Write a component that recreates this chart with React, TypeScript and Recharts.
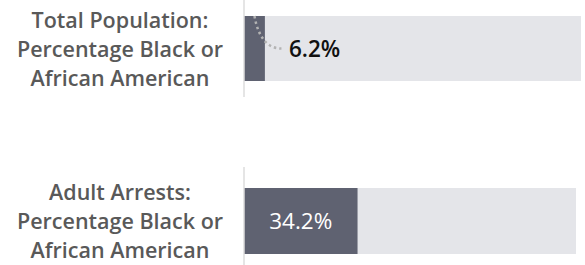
import React from 'react';
import { BarChart, Bar, XAxis, YAxis, LabelList } from 'recharts';

const categories = ['Total Population', 'Adult Arrests'];
const values = [6.2, 34.2];
const labelLines = [
  ['Total Population:', 'Percentage Black or', 'African American'],
  ['Adult Arrests:', 'Percentage Black or', 'African American'],
];
const domainMax = 100;

const FONT = '"Open Sans", "Noto Sans", sans-serif';
const DARK = '#5f6271';
const LIGHT = '#e4e5e9';

const makeTick = (lines: string[]) => (props: any) => {
  const { y } = props;
  return (
    <text textAnchor="middle" fill="#595959" fontFamily={FONT} fontSize={21.5} fontWeight={600}>
      {lines.map((l, i) => (
        <tspan key={i} x={120} y={y + (i - 1) * 29 + 8}>
          {l}
        </tspan>
      ))}
    </text>
  );
};

const ValueLabel = (props: any) => {
  const { x, y, width, height, value } = props;
  const cy = y + height / 2;
  if (value < 15) {
    const cx = x + width / 2;
    return (
      <g>
        <path
          d={`M ${cx} ${y} Q ${cx + 6} ${cy} ${cx + 27} ${cy}`}
          fill="none"
          stroke="#b3b3b3"
          strokeWidth={2.5}
          strokeDasharray="2.5 3"
        />
        <text x={x + width + 24} y={cy + 8} fill="#111" fontFamily={FONT} fontSize={22.5} fontWeight={600}>
          {`${value}%`}
        </text>
      </g>
    );
  }
  return (
    <text x={x + width / 2} y={cy + 8} fill="#fff" textAnchor="middle" fontFamily={FONT} fontSize={22.5} fontWeight={500}>
      {`${value}%`}
    </text>
  );
};

const OneBar = ({ idx, height, right, barSize }: { idx: number; height: number; right: number; barSize: number }) => {
  const data = [{ name: categories[idx], value: values[idx] }];
  return (
    <BarChart width={585} height={height} data={data} layout="vertical" margin={{ top: 0, right, bottom: 0, left: 0 }}>
      <XAxis type="number" domain={[0, domainMax]} hide />
      <YAxis
        type="category"
        dataKey="name"
        width={244}
        axisLine={{ stroke: '#dcdcdc', strokeWidth: 1.5 }}
        tickLine={false}
        tick={makeTick(labelLines[idx])}
      />
      <Bar dataKey="value" fill={DARK} barSize={barSize} background={{ fill: LIGHT }} isAnimationActive={false}>
        <LabelList dataKey="value" content={ValueLabel} />
      </Bar>
    </BarChart>
  );
};

export default function App() {
  return (
    <div style={{ position: 'absolute', left: 0, top: 0, width: 585, height: 265, overflow: 'hidden', background: '#fff' }}>
      <div style={{ position: 'absolute', left: 0, top: 0 }}>
        <OneBar idx={0} height={97} right={4} barSize={65} />
      </div>
      <div style={{ position: 'absolute', left: 0, top: 167 }}>
        <OneBar idx={1} height={108} right={9} barSize={66} />
      </div>
    </div>
  );
}
